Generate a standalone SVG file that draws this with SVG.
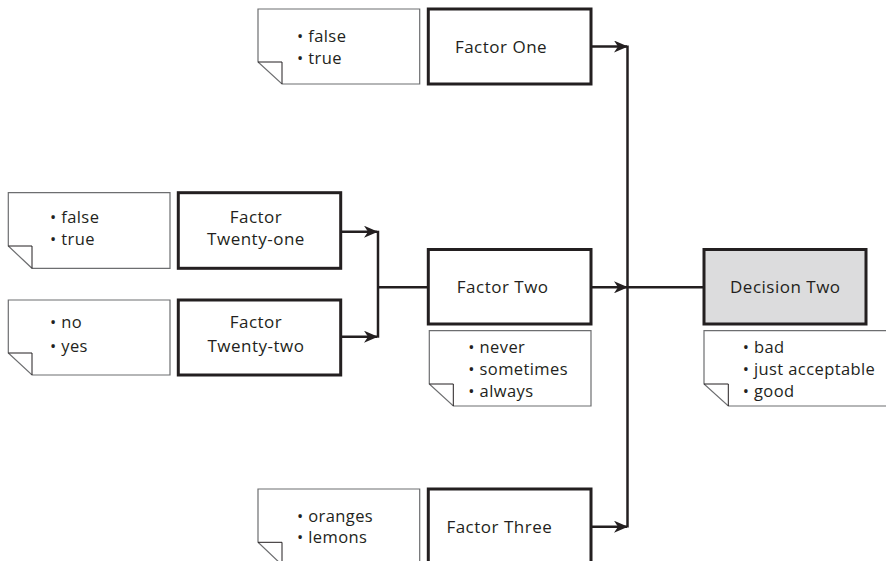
<svg xmlns="http://www.w3.org/2000/svg" width="886" height="561" viewBox="0 0 886 561">
<style>
.box{fill:#fff;stroke:#231f20;stroke-width:3}
.dec{fill:#dcdcdd;stroke:#231f20;stroke-width:3}
.note{fill:#fff;stroke:#6d6e70;stroke-width:1.2}
.fold{fill:none;stroke:#231f20;stroke-width:1}
.lbl{font-family:"Open Sans","Liberation Sans",sans-serif;font-size:17px;fill:#231f20;text-anchor:middle;letter-spacing:0.5px}
.bul{font-family:"Open Sans","Liberation Sans",sans-serif;font-size:16.5px;fill:#231f20;letter-spacing:0.4px}
.con{fill:none;stroke:#231f20;stroke-width:2.5}
</style>
<defs>
<marker id="ah" markerWidth="14" markerHeight="12" viewBox="0 0 14 12" refX="13" refY="6" orient="auto" markerUnits="userSpaceOnUse">
<path d="M0,0 L14,6 L0,12 L4,6 Z" fill="#231f20"/>
</marker>
</defs>
<g id="connectors">
<line class="con" x1="591" y1="46.5" x2="627" y2="46.5" marker-end="url(#ah)"/>
<line class="con" x1="591" y1="287.3" x2="627" y2="287.3" marker-end="url(#ah)"/>
<line class="con" x1="591" y1="526.7" x2="627" y2="526.7" marker-end="url(#ah)"/>
<line class="con" x1="627.5" y1="45.5" x2="627.5" y2="527.5"/>
<line class="con" x1="627" y1="287.3" x2="704" y2="287.3"/>
<line class="con" x1="340.7" y1="231.7" x2="377" y2="231.7" marker-end="url(#ah)"/>
<line class="con" x1="340.7" y1="336.7" x2="377" y2="336.7" marker-end="url(#ah)"/>
<line class="con" x1="378" y1="230.7" x2="378" y2="337.7"/>
<line class="con" x1="378" y1="287.3" x2="428.3" y2="287.3"/>
</g>
<g id="note-factor-one">
<path class="note" d="M258,9 H419.7 V84 H282 L258,62 Z"/>
<path class="fold" d="M258,62 H282 V84"/>
<text class="bul" x="297" y="42">• false</text>
<text class="bul" x="297" y="63.5">• true</text>
</g>
<g id="factor-one">
<rect class="box" x="428.3" y="9" width="162.7" height="75"/>
<text class="lbl" x="501" y="53">Factor One</text>
</g>
<g id="note-factor-twenty-one">
<path class="note" d="M8.3,192.7 H170 V268.3 H32 L8.3,246 Z"/>
<path class="fold" d="M8.3,246 H32 V268.3"/>
<text class="bul" x="50" y="222.7">• false</text>
<text class="bul" x="50" y="245">• true</text>
</g>
<g id="factor-twenty-one">
<rect class="box" x="178.3" y="192.7" width="162.4" height="75.6"/>
<text class="lbl" x="256" y="222.7">Factor</text>
<text class="lbl" x="256" y="245">Twenty-one</text>
</g>
<g id="note-factor-twenty-two">
<path class="note" d="M8.3,300 H170 V375 H32 L8.3,353 Z"/>
<path class="fold" d="M8.3,353 H32 V375"/>
<text class="bul" x="50" y="328.3">• no</text>
<text class="bul" x="50" y="351.7">• yes</text>
</g>
<g id="factor-twenty-two">
<rect class="box" x="178.3" y="300" width="162.4" height="75"/>
<text class="lbl" x="256" y="328.3">Factor</text>
<text class="lbl" x="256" y="351.7">Twenty-two</text>
</g>
<g id="factor-two">
<rect class="box" x="428.3" y="249.5" width="162.7" height="74.5"/>
<text class="lbl" x="502.7" y="292.7">Factor Two</text>
</g>
<g id="note-factor-two">
<path class="note" d="M429.3,330.7 H591 V406 H453.3 L429.3,384 Z"/>
<path class="fold" d="M429.3,384 H453.3 V406"/>
<text class="bul" x="468.3" y="352.7">• never</text>
<text class="bul" x="468.3" y="375">• sometimes</text>
<text class="bul" x="468.3" y="396.7">• always</text>
</g>
<g id="decision-two">
<rect class="dec" x="704" y="249.5" width="162" height="74.5"/>
<text class="lbl" x="785.3" y="292.7">Decision Two</text>
</g>
<g id="note-decision-two">
<path class="note" d="M890,330.7 H704 V384 L728.3,406 H890"/>
<path class="fold" d="M704,384 H728.3 V406"/>
<text class="bul" x="742.7" y="352.7">• bad</text>
<text class="bul" x="742.7" y="375">• just acceptable</text>
<text class="bul" x="742.7" y="396.7">• good</text>
</g>
<g id="note-factor-three">
<path class="note" d="M258,489 H419.7 V565 H282 L258,542.3 Z"/>
<path class="fold" d="M258,542.3 H282 V565"/>
<text class="bul" x="297" y="521.7">• oranges</text>
<text class="bul" x="297" y="543.3">• lemons</text>
</g>
<g id="factor-three">
<rect class="box" x="428.3" y="489" width="162.7" height="80"/>
<text class="lbl" x="499.3" y="533.3">Factor Three</text>
</g>
</svg>
